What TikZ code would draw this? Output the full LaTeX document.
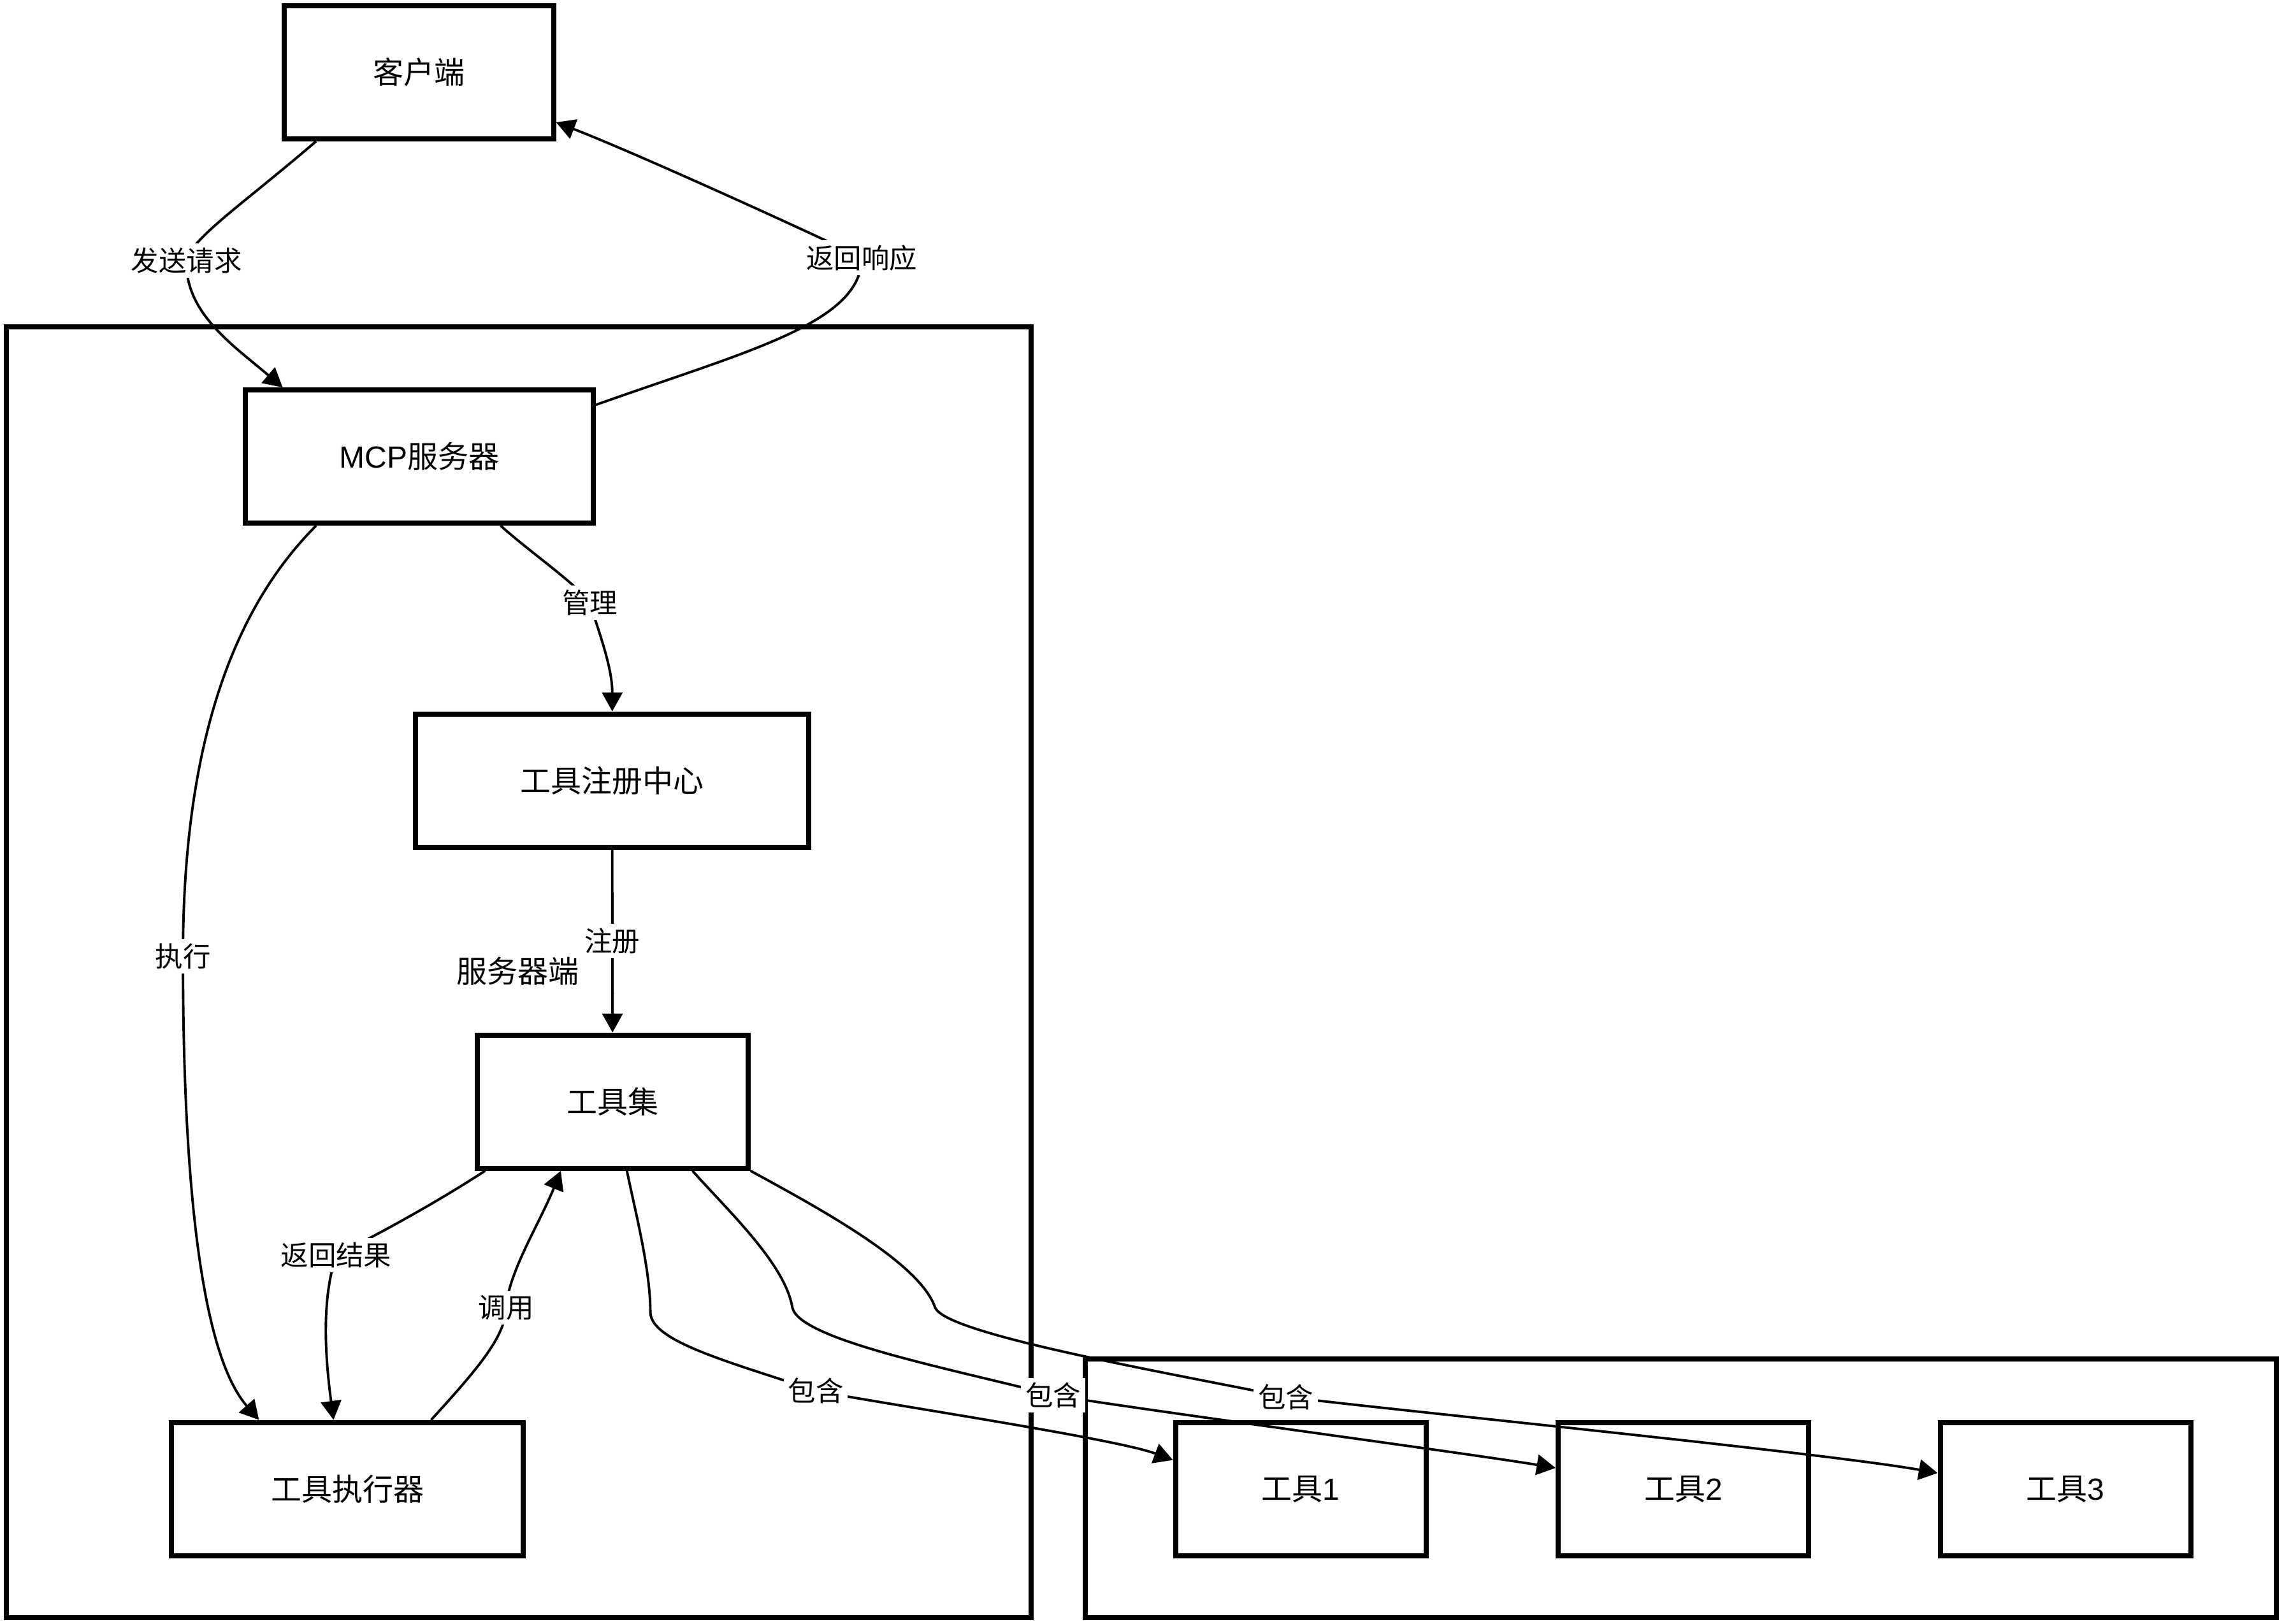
\documentclass[tikz,border=0pt]{standalone}
\usepackage{fontspec}
\setmainfont{Noto Sans CJK SC}
\newfontfamily\lat{Liberation Sans}
\usetikzlibrary{arrows.meta}
\begin{document}
\begin{tikzpicture}[x=0.5pt,y=-0.5pt,
  box/.style={draw, line width=1.75pt, minimum height=45.75pt, inner sep=0pt, font=\fontsize{10.5pt}{12pt}\selectfont},
  grp/.style={draw, line width=1.75pt, inner sep=0pt},
  edge/.style={line width=0.85pt, -{Triangle[length=6.5pt,width=7pt]}},
  lbl/.style={fill=white, inner sep=1.5pt, font=\fontsize{9.5pt}{11pt}\selectfont}]
\useasboundingbox (0,0) rectangle (1568,1114.8);
% groups
\node[grp, minimum width=351.8pt, minimum height=443.3pt] (srv) at (356,667.7) {};
\node[grp, minimum width=408.9pt, minimum height=88.9pt] (tls) at (1153.9,1022.1) {};
\node[font=\fontsize{10.5pt}{12pt}\selectfont, inner sep=0pt] (srvtitle) at (355.5,666.8) {服务器端};
% boxes
\node[box, minimum width=92.5pt] (client) at (287.5,49.5) {客户端};
\node[box, minimum width=119.5pt] (mcp) at (287.8,313.5) {{\lat MCP}服务器};
\node[box, minimum width=135pt] (reg) at (420.3,536) {工具注册中心};
\node[box, minimum width=93pt] (set) at (420.5,756.5) {工具集};
\node[box, minimum width=120.75pt] (exec) at (238.5,1022.5) {工具执行器};
\node[box, minimum width=86pt] (t1) at (893,1022.5) {工具{\lat 1}};
\node[box, minimum width=86pt] (t2) at (1155.7,1022.5) {工具{\lat 2}};
\node[box, minimum width=86pt] (t3) at (1418,1022.5) {工具{\lat 3}};
% edges
\draw[edge] (client.south -| 217,0) .. controls (167,140) and (131,164) .. (128,179) node[lbl] (l1) {发送请求}
  .. controls (127,215) and (160,237) .. (mcp.north -| 194,0);
\draw[edge] (mcp.east |- 0,278) .. controls (512.3,241.2) and (591.6,222) .. (591.6,177) node[lbl] (l2) {返回响应}
  .. controls (561.6,162) and (434,104) .. (client.east |- 0,84);
\draw[edge] (mcp.south -| 343.7,0) .. controls (363.7,379) and (397,402) .. (405,414) node[lbl] (l3) {管理}
  .. controls (411,434) and (420.4,458) .. (reg.north);
\draw[edge] (mcp.south -| 217,0) .. controls (162,416) and (125.6,506.7) .. (125.6,656.7) node[lbl] (l4) {执行}
  .. controls (125.6,840) and (142.8,935) .. (exec.north -| 177.8,0);
\draw[edge] (reg.south) -- node[lbl] (l5) {注册} (set.north);
\draw[edge] (set.south -| 333,0) .. controls (293,830) and (250.8,852) .. (230.8,862) node[lbl] (l6) {返回结果}
  .. controls (220.8,892) and (223,930) .. (exec.north -| 229,0);
\draw[edge] (exec.north -| 296,0) .. controls (326,942) and (347.4,918) .. (347.4,897.8) node[lbl] (l7) {调用}
  .. controls (349.4,873) and (370,841) .. (set.south -| 385,0);
\draw[edge] (set.south -| 430.4,0) .. controls (435.4,829) and (446.5,871) .. (446.5,901)
  .. controls (446.5,921) and (500,935) .. (560,955) node[lbl] (l8) {包含}
  .. controls (600,963) and (765,987.6) .. (t1.west |- 0,1002.6);
\draw[edge] (set.south -| 475.4,0) .. controls (500.4,832) and (539,868) .. (544,898)
  .. controls (549,920) and (653,940) .. (723,958) node[lbl] (l9) {包含}
  .. controls (783,968) and (1008,998) .. (t2.west |- 0,1008);
\draw[edge] (set.south east) .. controls (566.7,832) and (632,868) .. (642,898)
  .. controls (650,916) and (792.7,941) .. (882.7,959.2) node[lbl] (l10) {包含}
  .. controls (962.7,969) and (1251,997.5) .. (t3.west |- 0,1011.5);
\end{tikzpicture}
\end{document}
